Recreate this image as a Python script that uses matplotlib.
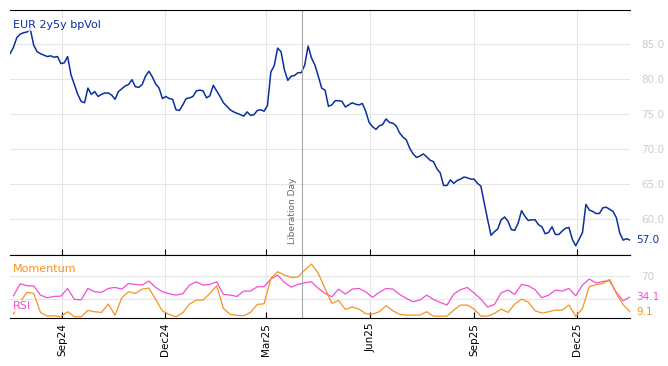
import numpy as np
import pandas as pd
import matplotlib
matplotlib.use("Agg")
import matplotlib.pyplot as plt
import matplotlib.dates as mdates

# EUR 2y5y bp vol, sampled every 3 days
vol_dates = pd.date_range("2024-07-17", periods=184, freq="3D")
vol = [
    83.6, 84.5, 85.9, 86.4, 86.6, 86.7, 87.1, 84.8, 83.9, 83.6,
    83.4, 83.2, 83.3, 83.1, 83.2, 82.2, 82.3, 83.2, 80.6, 79.2,
    77.8, 76.8, 76.6, 78.7, 77.8, 78.2, 77.5, 77.8, 78.0, 78.0,
    77.7, 77.1, 78.2, 78.6, 79.0, 79.2, 79.9, 78.9, 78.8, 79.2,
    80.4, 81.1, 80.3, 79.3, 78.7, 77.2, 77.5, 77.2, 77.1, 75.6,
    75.5, 76.3, 77.2, 77.3, 77.5, 78.3, 78.4, 78.3, 77.3, 77.6,
    79.1, 78.3, 77.5, 76.6, 76.1, 75.6, 75.3, 75.1, 74.9, 74.7,
    75.3, 74.8, 74.9, 75.5, 75.6, 75.4, 76.2, 81.0, 81.9, 84.4,
    83.9, 81.3, 79.8, 80.4, 80.5, 80.9, 80.9, 82.0, 84.7, 83.0,
    82.0, 80.4, 78.7, 78.4, 76.1, 76.3, 76.9, 76.9, 76.8, 76.0,
    76.3, 76.6, 76.4, 76.3, 76.5, 75.4, 73.8, 73.2, 72.8, 73.3,
    73.5, 74.3, 73.8, 73.7, 73.3, 72.3, 71.7, 71.3, 70.1, 69.3,
    68.8, 69.0, 69.3, 68.9, 68.4, 68.2, 67.2, 66.6, 64.8, 64.8,
    65.6, 65.1, 65.5, 65.7, 66.0, 65.9, 65.7, 65.7, 65.1, 64.7,
    62.3, 59.9, 57.7, 58.2, 58.6, 59.9, 60.3, 59.7, 58.5, 58.4,
    59.4, 61.2, 60.4, 59.8, 59.9, 59.9, 59.2, 58.9, 57.9, 58.1,
    58.9, 57.8, 57.8, 58.3, 58.7, 58.8, 57.1, 56.2, 57.1, 58.1,
    62.1, 61.3, 61.1, 60.8, 60.8, 61.6, 61.7, 61.4, 61.1, 60.2,
    58.0, 57.0, 57.2, 57.0,
]

# indicators, sampled every 6 days
ind_dates = pd.date_range("2024-07-20", periods=92, freq="6D")
rsi = [
    36.1, 56.4, 53.1, 52.5, 37.2, 32.7, 35.0, 35.5, 48.5, 29.9,
    29.3, 48.5, 42.9, 41.8, 48.5, 50.2, 47.4, 57.0, 55.3, 54.2,
    61.0, 50.2, 42.9, 39.5, 37.2, 39.5, 54.2, 59.8, 54.2, 55.3,
    59.8, 38.4, 37.2, 35.0, 44.0, 44.0, 51.4, 51.4, 64.4, 71.1,
    58.7, 50.8, 55.3, 58.1, 59.8, 48.5, 40.1, 34.4, 47.4, 38.9,
    47.4, 48.5, 42.9, 33.3, 41.8, 48.5, 47.4, 38.4, 31.6, 25.9,
    28.8, 37.2, 29.9, 24.8, 20.3, 38.9, 46.3, 50.2, 40.6, 30.5,
    16.9, 21.4, 41.2, 45.7, 38.4, 55.3, 53.1, 46.3, 32.7, 37.2,
    45.7, 44.0, 48.5, 36.1, 54.2, 64.4, 57.6, 60.4, 61.5, 41.8,
    27.6, 34.1,
]
momentum = [
    5.0, 25.9, 41.8, 40.1, 7.9, 1.6, 2.2, 0.5, 9.0, 0.5,
    0.5, 11.2, 9.0, 7.9, 22.0, 3.3, 32.7, 42.9, 40.1, 47.4,
    49.1, 29.9, 10.1, 4.5, 0.5, 7.3, 22.0, 28.8, 28.8, 40.1,
    53.1, 14.6, 4.5, 2.8, 2.2, 7.9, 21.4, 22.5, 65.5, 76.8,
    71.1, 67.2, 67.7, 79.6, 89.8, 74.0, 48.5, 23.1, 28.2, 12.9,
    16.9, 13.5, 5.6, 5.0, 9.0, 19.2, 10.7, 4.5, 3.3, 3.3,
    3.3, 9.0, 1.6, 1.6, 1.6, 11.8, 20.3, 20.3, 13.5, 1.6,
    1.6, 6.2, 13.5, 7.9, 22.0, 30.5, 25.4, 10.7, 6.7, 9.0,
    11.8, 11.8, 20.3, 1.1, 14.6, 51.9, 54.7, 57.0, 63.8, 40.1,
    20.9, 9.1,
]

event_date = pd.Timestamp("2025-04-02")
event_label = "Liberation Day"

BLUE = "#0b2f9f"
ORANGE = "#f7931e"
PINK = "#f04fd2"
GRID = "#e6e6e6"
LIGHT = "#cccccc"

fig = plt.figure(figsize=(6.68, 3.66), dpi=100)
ax = fig.add_axes([0.015, 0.303, 0.928, 0.670])
ax2 = fig.add_axes([0.015, 0.131, 0.928, 0.172], sharex=ax)

# top panel
ax.plot(vol_dates, vol, color=BLUE, linewidth=1.1)
ax.set_ylim(54.86, 89.86)
ax.set_yticks([60, 65, 70, 75, 80, 85])
ax.yaxis.set_major_formatter(matplotlib.ticker.FormatStrFormatter("%.1f"))
ax.yaxis.tick_right()
ax.tick_params(axis="y", length=0, labelsize=7.5, labelcolor=LIGHT, pad=8)
ax.tick_params(axis="x", direction="in", length=4, labelbottom=False)
ax.grid(True, color=GRID, linewidth=0.8)
ax.set_axisbelow(True)
for s in ["left", "right"]:
    ax.spines[s].set_visible(False)
ax.axvline(event_date, color="#aaaaaa", linewidth=0.8)
ax.text(event_date - pd.Timedelta(days=9), 56.5, event_label, rotation=90,
        ha="center", va="bottom", fontsize=6.5, color="#666666")
ax.text(0.005, 0.94, "EUR 2y5y bpVol", transform=ax.transAxes, fontsize=8,
        color=BLUE, va="center", ha="left", zorder=5,
        bbox=dict(facecolor="white", edgecolor="none", alpha=0.75, pad=1))
ax.text(1.01, vol[-1], f"{vol[-1]:.1f}", transform=ax.get_yaxis_transform(),
        fontsize=7.5, color=BLUE, va="center", ha="left")

# bottom panel
ax2.plot(ind_dates, rsi, color=PINK, linewidth=0.9)
ax2.plot(ind_dates, momentum, color=ORANGE, linewidth=0.9)
ax2.set_ylim(-1.7, 105)
ax2.set_yticks([30, 70])
ax2.set_yticklabels(["", "70"])
ax2.yaxis.tick_right()
ax2.tick_params(axis="y", length=0, labelsize=7.5, labelcolor=LIGHT, pad=8)
ax2.tick_params(axis="x", direction="in", length=4, labelsize=7.5, rotation=90)
ax2.grid(True, color=GRID, linewidth=0.8)
ax2.set_axisbelow(True)
for s in ["left", "right"]:
    ax2.spines[s].set_visible(False)
ax2.axvline(event_date, color="#aaaaaa", linewidth=0.8)
ax2.text(0.005, 0.78, "Momentum", transform=ax2.transAxes, fontsize=8,
         color=ORANGE, va="center", ha="left")
ax2.text(0.005, 0.19, "RSI", transform=ax2.transAxes, fontsize=8,
         color=PINK, va="center", ha="left", zorder=5,
         bbox=dict(facecolor="white", edgecolor="none", alpha=0.75, pad=0.5))
ax2.text(1.01, rsi[-1], f"{rsi[-1]:.1f}", transform=ax2.get_yaxis_transform(),
         fontsize=7.5, color=PINK, va="center", ha="left")
ax2.text(1.01, momentum[-1], f"{momentum[-1]:.1f}", transform=ax2.get_yaxis_transform(),
         fontsize=7.5, color=ORANGE, va="center", ha="left")

ax2.set_xlim(vol_dates[0], vol_dates[-1])
ax2.xaxis.set_major_locator(mdates.MonthLocator(bymonth=[3, 6, 9, 12]))
ax2.xaxis.set_major_formatter(mdates.DateFormatter("%b%y"))

fig.savefig("out.png", dpi=100)
